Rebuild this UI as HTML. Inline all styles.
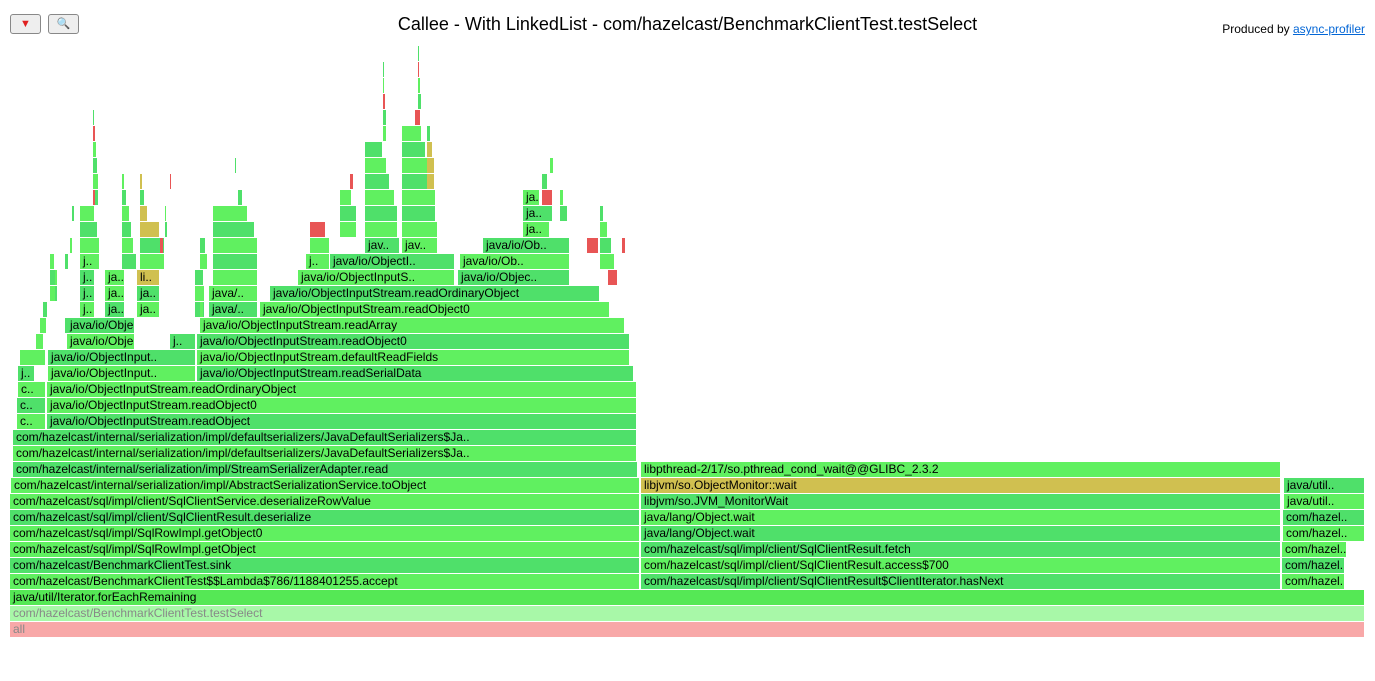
<!DOCTYPE html>
<html><head><meta charset="utf-8">
<style>
body{margin:0;background:#fff;font-family:"Liberation Sans",sans-serif;}
#wrap{position:relative;width:1375px;height:681px;overflow:hidden;}
.btn{position:absolute;top:14px;width:29px;height:18px;border:1px solid #888;border-radius:3px;background:#eee;font-size:11px;text-align:center;line-height:18px;}
#title{position:absolute;top:14px;left:0;width:1375px;text-align:center;font-size:18px;color:#000;}
#prod{position:absolute;top:22px;right:10px;font-size:12px;}
#prod a{color:#0366d6;text-decoration:underline;}
.f{position:absolute;height:15px;font-size:12px;line-height:15px;overflow:hidden;white-space:nowrap;padding-left:3px;box-sizing:border-box;color:#000;}
</style></head><body>
<div id="wrap">
<div class="btn" style="left:10px;color:#e02020">▼</div>
<div class="btn" style="left:48px">🔍</div>
<div id="title">Callee - With LinkedList - com/hazelcast/BenchmarkClientTest.testSelect</div>
<div id="prod">Produced by <a>async-profiler</a></div>
<div id="frames"></div>
</div>
<script>
// frames: level, start sample, width samples, color key, name
const levels=[0,1,2,3,3,3,4,4,4,5,5,5,6,6,6,7,7,7,8,8,8,9,9,9,10,10,11,12,13,13,14,14,15,15,16,16,16,17,17,17,18,18,18,19,19,20,20,20,20,20,21,21,21,21,21,22,22,22,22,22,23,23,23,23,24,24,24,25,26,27,27];
const starts=[0,0,0,0,631,1272,0,631,1272,0,631,1272,0,631,1273,0,631,1273,0,631,1274,1,631,1274,3,631,3,3,7,37,7,37,8,37,8,38,187,10,38,187,57,160,187,57,190,70,95,127,199,250,70,95,127,199,260,70,95,127,288,448,70,296,320,450,355,392,473,513,513,513,532];
const widths=[1355,1355,1355,630,640,63,630,640,63,630,640,65,630,640,82,630,640,82,630,640,81,629,640,81,625,640,624,624,29,590,29,590,28,590,17,148,437,26,148,433,68,26,433,68,425,15,20,23,49,350,15,20,23,49,330,15,20,23,157,112,20,24,125,110,35,36,87,27,30,17,11];
const colors=['p','l','g','a','b','a','b','a','b','a','b','a','a','b','a','b','a','b','a','b','a','a','y','b','b','a','a','b','a','b','b','a','a','a','b','a','b','a','b','a','a','b','b','b','a','a','b','a','b','a','b','a','b','a','b','b','a','y','a','b','a','a','b','a','b','a','b','a','b','a','r'];
const names=['all','com/hazelcast/BenchmarkClientTest.testSelect','java/util/Iterator.forEachRemaining',
'com/hazelcast/BenchmarkClientTest$$Lambda$786/1188401255.accept','com/hazelcast/sql/impl/client/SqlClientResult$ClientIterator.hasNext','com/hazel..',
'com/hazelcast/BenchmarkClientTest.sink','com/hazelcast/sql/impl/client/SqlClientResult.access$700','com/hazel..',
'com/hazelcast/sql/impl/SqlRowImpl.getObject','com/hazelcast/sql/impl/client/SqlClientResult.fetch','com/hazel..',
'com/hazelcast/sql/impl/SqlRowImpl.getObject0','java/lang/Object.wait','com/hazel..',
'com/hazelcast/sql/impl/client/SqlClientResult.deserialize','java/lang/Object.wait','com/hazel..',
'com/hazelcast/sql/impl/client/SqlClientService.deserializeRowValue','libjvm/so.JVM_MonitorWait','java/util..',
'com/hazelcast/internal/serialization/impl/AbstractSerializationService.toObject','libjvm/so.ObjectMonitor::wait','java/util..',
'com/hazelcast/internal/serialization/impl/StreamSerializerAdapter.read','libpthread-2/17/so.pthread_cond_wait@@GLIBC_2.3.2',
'com/hazelcast/internal/serialization/impl/defaultserializers/JavaDefaultSerializers$Ja..','com/hazelcast/internal/serialization/impl/defaultserializers/JavaDefaultSerializers$Ja..',
'c..','java/io/ObjectInputStream.readObject','c..','java/io/ObjectInputStream.readObject0','c..','java/io/ObjectInputStream.readOrdinaryObject',
'j..','java/io/ObjectInput..','java/io/ObjectInputStream.readSerialData',
'','java/io/ObjectInput..','java/io/ObjectInputStream.defaultReadFields',
'java/io/Obje..','j..','java/io/ObjectInputStream.readObject0',
'java/io/Obje..','java/io/ObjectInputStream.readArray',
'j..','ja..','ja..','java/..','java/io/ObjectInputStream.readObject0',
'j..','ja..','ja..','java/..','java/io/ObjectInputStream.readOrdinaryObject',
'j..','ja..','li..','java/io/ObjectInputS..','java/io/Objec..',
'j..','j..','java/io/ObjectI..','java/io/Ob..',
'jav..','jav..','java/io/Ob..','ja..','ja..','ja..',''];
// small towers without labels: level, start, width, color
const tLevels=[22,23,24,25,26,27,23,24,25,26,27,28,29,30,31,32,33,34,35,24,25,26,27,28,29,30,31,32,33,34,35,36,28,29,30,31,25,26,27,28,24,25,23,24,25,26,27,28,29,30,31,32,23,24,25,26,27,28,23,24,25,26,27,28,24,25,26,28,29,26,27,24,23,24,25,26,19,20,21,22,23,21,22,23,24,20,21,22,23,24,18,19,20,22,24,26,27,28,29];
const tStarts=[203,203,203,203,203,228,355,355,355,355,355,355,355,355,373,373,373,373,373,392,392,392,392,392,392,392,392,405,408,408,408,408,417,417,417,417,330,330,330,340,300,300,70,70,70,70,83,83,83,83,83,83,130,130,130,130,130,130,112,112,112,112,112,112,150,155,155,532,540,550,550,577,590,590,590,590,30,33,40,40,40,45,45,55,60,185,185,185,190,190,26,55,190,598,612,62,83,160,225];
const tWidths=[45,45,45,42,35,5,35,35,33,33,30,25,22,18,4,4,3,2,1,36,36,34,34,30,28,24,20,6,4,3,2,1,8,8,6,4,17,17,12,4,20,16,20,20,18,15,6,6,5,4,3,2,25,25,20,8,5,3,15,12,10,8,5,3,4,3,2,6,4,8,4,12,15,12,8,4,7,5,6,6,5,3,3,4,3,10,10,9,8,6,8,4,4,10,4,3,3,2,2];
const tColors=['a','b','a','b','a','b','a','b','a','b','a','b','a','b','a','b','r','a','b','b','a','b','a','b','a','b','a','r','b','a','r','b','y','y','y','b','a','b','a','r','a','r','b','a','b','a','b','a','b','a','r','b','a','b','y','y','b','y','b','a','b','a','b','a','r','b','a','b','a','b','a','r','a','b','a','b','a','b','a','b','a','b','a','b','a','b','a','b','a','b','a','b','a','r','r','b','r','r','b'];

const palette={p:'#f8a8a8',l:'#a8f8a8',g:'#55e855',a:'#60f060',b:'#4fe06a',y:'#d0c050',r:'#e85555'};
const X0=10, BASE=622, ROW=16;
function xs(s){return X0+s;}
function ys(l){return BASE-l*ROW;}
const host=document.getElementById('frames');
function draw(l,s,w,c,n,i){
  const d=document.createElement('div');
  d.className='f';
  
  
  d.style.left=xs(s)+'px';d.style.top=ys(l)+'px';
  d.style.width=(w-1)+'px';d.style.background=palette[c];
  if(c==='p'||c==='l')d.style.color='#888';
  if(w<6)d.style.paddingLeft='0';
  d.textContent=n;
  host.appendChild(d);
}
for(let i=0;i<tLevels.length;i++)draw(tLevels[i],tStarts[i],Math.max(tWidths[i],2),tColors[i],'',i);
for(let i=0;i<levels.length;i++)draw(levels[i],starts[i],widths[i],colors[i],names[i],i);
</script>
</body></html>
